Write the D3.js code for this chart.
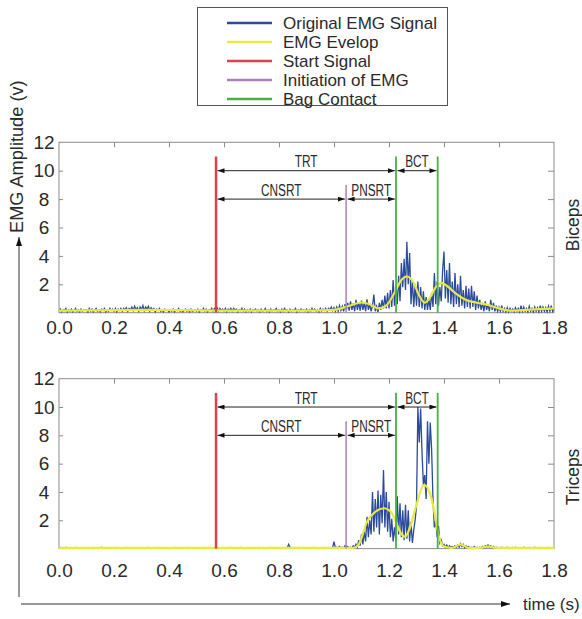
<!DOCTYPE html>
<html>
<head>
<meta charset="utf-8">
<script src="https://cdn.jsdelivr.net/npm/d3@7"></script>
<style>
  html, body { margin: 0; padding: 0; background: #fff; }
  svg { display: block; font-family: "Liberation Sans", Arial, sans-serif; }
</style>
</head>
<body>
<svg id="chart" width="582" height="619"></svg>
<script>
// ---------------- DATA ----------------
const timeTicks = [0.0, 0.2, 0.4, 0.6, 0.8, 1.0, 1.2, 1.4, 1.6, 1.8];
const ampTicks = [2, 4, 6, 8, 10];
const ampTickLabels = ["2", "4", "6", "8", "10", "12"];
const ampLabelValues = [2, 4, 6, 8, 10, 12];

const legendLabels = ["Original EMG Signal", "EMG Evelop", "Start Signal", "Initiation of EMG", "Bag Contact"];
const panelNames = ["Biceps", "Triceps"];

const sampleStep = 0.005; // seconds between EMG samples, starting at 0.0
const bicepsEMG = [
  0.1,0.25,0.05,0.2,0.15,0.3,0.05,0.2,0.1,0.25,0.05,0.15,0.3,0.1,0.2,0.05,0.25,0.1,0.2,0.15,
  0.2,0.05,0.3,0.1,0.25,0.05,0.2,0.3,0.1,0.2,0.05,0.25,0.15,0.3,0.05,0.2,0.1,0.3,0.15,0.25,
  0.1,0.3,0.05,0.25,0.15,0.3,0.1,0.3,0.2,0.35,0.1,0.3,0.2,0.4,0.15,0.45,0.2,0.35,0.1,0.4,
  0.2,0.5,0.15,0.4,0.25,0.45,0.1,0.35,0.2,0.3,0.05,0.25,0.15,0.3,0.1,0.2,0.05,0.25,0.15,0.2,
  0.05,0.2,0.1,0.25,0.05,0.2,0.15,0.3,0.1,0.2,0.05,0.15,0.25,0.1,0.2,0.05,0.25,0.1,0.15,0.2,
  0.1,0.25,0.05,0.2,0.15,0.3,0.1,0.25,0.05,0.2,0.15,0.3,0.1,0.3,0.2,0.35,0.1,0.3,0.15,0.25,
  0.1,0.3,0.05,0.25,0.15,0.3,0.1,0.3,0.2,0.25,0.05,0.2,0.15,0.3,0.1,0.25,0.05,0.2,0.1,0.25,
  0.05,0.2,0.15,0.25,0.1,0.2,0.05,0.25,0.1,0.15,0.3,0.1,0.2,0.05,0.25,0.1,0.2,0.15,0.3,0.1,
  0.2,0.05,0.25,0.1,0.3,0.15,0.2,0.05,0.25,0.1,0.2,0.15,0.3,0.05,0.2,0.1,0.25,0.15,0.2,0.1,
  0.25,0.05,0.2,0.1,0.3,0.15,0.25,0.1,0.2,0.05,0.3,0.1,0.25,0.15,0.3,0.1,0.3,0.2,0.4,0.15,
  0.35,0.1,0.4,0.1,0.5,0.15,0.45,0.1,0.6,0.2,0.7,0.15,0.8,0.2,0.65,0.1,0.9,0.2,0.75,0.15,
  0.85,0.2,0.7,0.1,0.95,0.2,0.6,0.1,0.5,1.27,0.1,0.45,0.05,0.7,0.2,0.9,0.3,1.2,0.3,1.4,
  0.3,1.6,0.4,2.3,0.5,1.8,0.6,2.6,0.8,3.5,1.8,3.8,1.6,5.0,2.0,4.2,0.6,2.3,0.4,2.0,
  0.5,2.2,0.4,1.8,0.3,1.5,0.2,1.1,0.2,1.0,0.2,1.4,0.4,2.8,0.6,2.2,0.5,1.8,0.8,3.0,
  4.3,1.0,3.0,0.7,3.5,0.6,2.2,0.4,2.8,0.6,2.0,0.4,2.6,0.5,1.6,0.3,1.9,0.4,1.7,0.3,
  1.9,0.4,1.5,0.2,1.2,0.3,0.9,0.2,0.7,0.1,0.8,0.2,0.6,0.1,0.9,0.2,0.7,0.1,0.5,0.1,
  0.4,0.1,0.5,0.1,0.3,0.05,0.35,0.05,0.3,0.1,0.25,0.05,0.35,0.1,0.3,0.05,0.5,0.1,0.4,0.1,
  0.3,0.05,0.45,0.1,0.3,0.05,0.4,0.1,0.35,0.05,0.5,0.1,0.4,0.1,0.35,0.05,0.45,0.1,0.5,0.1,
  0.3
];
const tricepsEMG = [
  0.05,0.08,0.03,0.06,0.04,0.09,0.03,0.05,0.07,0.04,0.06,0.03,0.08,0.05,0.04,0.07,0.03,0.06,0.05,0.08,
  0.04,0.07,0.03,0.06,0.05,0.08,0.04,0.06,0.03,0.07,0.05,0.09,0.04,0.06,0.03,0.05,0.07,0.04,0.06,0.05,
  0.06,0.04,0.08,0.03,0.05,0.07,0.04,0.06,0.03,0.08,0.05,0.04,0.07,0.03,0.06,0.05,0.08,0.04,0.06,0.03,
  0.05,0.07,0.04,0.06,0.03,0.08,0.05,0.04,0.07,0.03,0.06,0.05,0.08,0.04,0.06,0.03,0.05,0.07,0.04,0.06,
  0.04,0.06,0.03,0.07,0.05,0.08,0.04,0.06,0.03,0.05,0.07,0.04,0.06,0.03,0.08,0.05,0.04,0.07,0.03,0.06,
  0.06,0.04,0.07,0.03,0.05,0.08,0.04,0.06,0.03,0.07,0.05,0.04,0.06,0.03,0.08,0.05,0.04,0.07,0.03,0.05,
  0.05,0.07,0.04,0.06,0.03,0.08,0.05,0.04,0.07,0.03,0.06,0.05,0.08,0.04,0.06,0.03,0.05,0.07,0.04,0.06,
  0.04,0.06,0.03,0.07,0.05,0.08,0.04,0.06,0.03,0.05,0.07,0.04,0.06,0.03,0.08,0.05,0.04,0.07,0.03,0.06,
  0.06,0.04,0.07,0.03,0.05,0.08,0.04,0.3,0.1,0.07,0.05,0.04,0.06,0.03,0.08,0.05,0.04,0.07,0.03,0.05,
  0.05,0.07,0.04,0.06,0.03,0.08,0.05,0.04,0.07,0.03,0.06,0.05,0.08,0.04,0.06,0.03,0.05,0.07,0.04,0.06,
  0.5,0.05,0.1,0.03,0.15,0.05,0.1,0.03,0.2,0.05,0.15,0.05,0.1,0.03,0.2,0.1,0.3,0.1,0.6,0.2,
  1.0,0.3,1.2,0.5,2.25,0.8,2.0,1.0,4.0,1.2,3.5,1.5,4.1,1.0,3.8,1.8,5.55,1.5,4.0,1.2,
  3.3,0.8,2.1,0.5,1.5,0.6,3.7,1.0,3.2,0.8,2.7,0.6,3.1,0.7,2.7,0.5,1.9,0.4,1.3,2.0,
  3.0,10.0,7.5,9.9,6.85,4.5,5.2,3.5,9.0,6.0,8.9,7.0,3.4,1.5,2.0,0.8,1.6,0.4,0.6,0.2,
  0.3,0.1,0.25,0.05,0.2,0.1,0.15,0.05,0.2,0.1,0.25,0.1,0.35,0.15,0.3,0.05,0.2,0.1,0.15,0.05,
  0.1,0.05,0.15,0.03,0.1,0.05,0.1,0.03,0.15,0.05,0.2,0.1,0.25,0.1,0.2,0.05,0.15,0.03,0.1,0.05,
  0.08,0.03,0.1,0.05,0.07,0.04,0.09,0.03,0.06,0.05,0.08,0.04,0.1,0.03,0.06,0.05,0.07,0.04,0.09,0.05,
  0.06,0.04,0.08,0.03,0.07,0.05,0.09,0.04,0.06,0.03,0.08,0.05,0.07,0.04,0.06,0.03,0.08,0.05,0.06,0.04,
  0.05
];

const bicepsEnvT = [0.0, 0.3, 0.6, 0.9, 1.0, 1.05, 1.1, 1.13, 1.16, 1.19, 1.22, 1.245, 1.265, 1.29, 1.31, 1.33, 1.35, 1.37, 1.39, 1.41, 1.44, 1.48, 1.52, 1.56, 1.6, 1.64, 1.7, 1.75, 1.8];
const bicepsEnvV = [0.15, 0.2, 0.15, 0.15, 0.2, 0.45, 0.72, 0.6, 0.3, 0.5, 1.4, 2.3, 2.55, 2.1, 1.2, 0.7, 1.1, 1.8, 2.1, 1.9, 1.4, 0.9, 0.7, 0.55, 0.3, 0.15, 0.2, 0.25, 0.3];
const tricepsEnvT = [0.0, 0.5, 1.0, 1.07, 1.09, 1.12, 1.15, 1.183, 1.21, 1.225, 1.24, 1.258, 1.275, 1.3, 1.327, 1.345, 1.36, 1.38, 1.4, 1.43, 1.46, 1.49, 1.53, 1.56, 1.59, 1.8];
const tricepsEnvV = [0.05, 0.05, 0.05, 0.05, 0.3, 1.9, 2.6, 2.85, 2.5, 1.9, 1.2, 0.85, 1.4, 3.1, 4.5, 4.1, 3.1, 0.95, 0.15, 0.05, 0.3, 0.05, 0.05, 0.15, 0.05, 0.05];

// event times (s) and the heights (V) the event lines are drawn to
const startSignalT = 0.571, startSignalH = 11;
const initiationT = 1.044, initiationH = 9;
const bagContactT = [1.2255, 1.377], bagContactH = 11;

// interval annotations: label, from event, to event, level (V)
const intervalLabels = ["TRT", "BCT", "CNSRT", "PNSRT"];
const intervalFrom = [startSignalT, bagContactT[0], startSignalT, initiationT];
const intervalTo = [bagContactT[0], bagContactT[1], initiationT, bagContactT[0]];
const intervalLevel = [10, 10, 8, 8];

// ---------------- STYLE ----------------
const C = {
  blue: "#2c4b9c", yellow: "#e9ea3c", red: "#d9434a", purple: "#ad80ba", green: "#47b043",
  frame: "#8c8c8c", text: "#2a2a2a"
};
const legendColors = [C.blue, C.yellow, C.red, C.purple, C.green];

const svg = d3.select("#chart");
const defs = svg.append("defs");
defs.append("marker").attr("id", "ah").attr("viewBox", "0 0 7 5")
  .attr("refX", 7).attr("refY", 2.5).attr("markerWidth", 7).attr("markerHeight", 5)
  .attr("markerUnits", "userSpaceOnUse").attr("orient", "auto-start-reverse")
  .append("path").attr("d", "M0,0 L7,2.5 L0,5 Z").attr("fill", "#111");
defs.append("marker").attr("id", "bigah").attr("viewBox", "0 0 9 6")
  .attr("refX", 9).attr("refY", 3).attr("markerWidth", 9).attr("markerHeight", 6)
  .attr("markerUnits", "userSpaceOnUse").attr("orient", "auto")
  .append("path").attr("d", "M0,0 L9,3 L0,6 Z").attr("fill", "#111");

const x = d3.scaleLinear().domain([0, 1.8]).range([59, 554]);

const panels = [
  { name: panelNames[0], top: 142.3, bottom: 312.7, emg: bicepsEMG, envT: bicepsEnvT, envV: bicepsEnvV, labelOff: 22, sideY: 225 },
  { name: panelNames[1], top: 378.7, bottom: 548.6, emg: tricepsEMG, envT: tricepsEnvT, envV: tricepsEnvV, labelOff: 29, sideY: 477 }
];

panels.forEach((p, pi) => {
  const y = d3.scaleLinear().domain([0, 12]).range([p.bottom, p.top]);
  const g = svg.append("g");
  const clipId = "clip" + pi;
  defs.append("clipPath").attr("id", clipId).append("rect")
    .attr("x", x(0)).attr("y", y(12)).attr("width", x(1.8) - x(0)).attr("height", y(0) - y(12) + 1);

  // frame
  g.append("rect").attr("x", x(0)).attr("y", y(12)).attr("width", x(1.8) - x(0)).attr("height", y(0) - y(12))
    .attr("fill", "none").attr("stroke", C.frame).attr("stroke-width", 1);

  // x tick labels (bottom)
  const xb = g.append("g").attr("transform", `translate(0,${y(0)})`)
    .call(d3.axisBottom(x).tickValues(timeTicks).tickFormat(d3.format(".1f")).tickSize(0).tickPadding(p.labelOff - 14));
  xb.select(".domain").remove();
  xb.selectAll("text").attr("font-size", 19).attr("fill", C.text).attr("font-family", "Liberation Sans, Arial, sans-serif");

  // top inside ticks
  const xt = g.append("g").attr("transform", `translate(0,${y(12)})`)
    .call(d3.axisTop(x).tickValues(timeTicks.slice(1, -1)).tickFormat("").tickSize(-5));
  xt.select(".domain").remove();
  xt.selectAll("line").attr("stroke", C.frame);

  // left inside ticks
  const yl = g.append("g").attr("transform", `translate(${x(0)},0)`)
    .call(d3.axisLeft(y).tickValues(ampTicks).tickFormat("").tickSize(-4));
  yl.select(".domain").remove();
  yl.selectAll("line").attr("stroke", C.frame);

  // left labels (centered)
  g.append("g").selectAll("text").data(ampLabelValues).join("text")
    .attr("x", x(0) - 15).attr("y", d => y(d)).attr("dy", "0.35em")
    .attr("text-anchor", "middle").attr("font-size", 19).attr("fill", C.text)
    .text((d, i) => ampTickLabels[i]);

  // right inside ticks
  const yr = g.append("g").attr("transform", `translate(${x(1.8)},0)`)
    .call(d3.axisRight(y).tickValues(ampTicks).tickFormat("").tickSize(-6));
  yr.select(".domain").remove();
  yr.selectAll("line").attr("stroke", C.frame);

  // EMG raw signal
  const plot = g.append("g").attr("clip-path", `url(#${clipId})`);
  plot.append("path").datum(p.emg)
    .attr("d", d3.line().x((d, i) => x(i * sampleStep)).y(d => y(d)))
    .attr("fill", "none").attr("stroke", C.blue).attr("stroke-width", 1.3).attr("stroke-linejoin", "miter");

  // envelope
  const env = p.envT.map((t, i) => [t, p.envV[i]]);
  plot.append("path").datum(env)
    .attr("d", d3.line().x(d => x(d[0])).y(d => y(d[1])).curve(d3.curveMonotoneX))
    .attr("fill", "none").attr("stroke", C.yellow).attr("stroke-width", 2.2);

  // event lines
  g.append("line").attr("x1", x(startSignalT)).attr("x2", x(startSignalT))
    .attr("y1", y(0)).attr("y2", y(startSignalH)).attr("stroke", C.red).attr("stroke-width", 2.5);
  g.append("line").attr("x1", x(initiationT)).attr("x2", x(initiationT))
    .attr("y1", y(0)).attr("y2", y(initiationH)).attr("stroke", C.purple).attr("stroke-width", 1.5);
  g.selectAll(".bag").data(bagContactT).join("line")
    .attr("x1", d => x(d)).attr("x2", d => x(d))
    .attr("y1", y(0)).attr("y2", y(bagContactH)).attr("stroke", C.green).attr("stroke-width", 1.8);

  // interval arrows
  intervalLabels.forEach((lab, i) => {
    const x1 = x(intervalFrom[i]) + 1.5, x2 = x(intervalTo[i]) - 1.2;
    const yy = y(intervalLevel[i]);
    g.append("line").attr("x1", x1).attr("x2", x2).attr("y1", yy).attr("y2", yy)
      .attr("stroke", "#222").attr("stroke-width", 1)
      .attr("marker-start", "url(#ah)").attr("marker-end", "url(#ah)");
    const t = g.append("text").attr("x", (x1 + x2) / 2).attr("y", yy - 3.5)
      .attr("text-anchor", "middle").attr("font-size", 16).attr("fill", C.text).text(lab);
    const len = t.node().getComputedTextLength();
    t.attr("textLength", len * 0.74).attr("lengthAdjust", "spacingAndGlyphs");
  });

  // side label
  g.append("text").attr("transform", `translate(579,${p.sideY}) rotate(-90)`)
    .attr("text-anchor", "middle").attr("font-size", 17.5).attr("fill", C.text).text(p.name);
});

// y-axis title + arrow
svg.append("text").attr("transform", "translate(23,233) rotate(-90)")
  .attr("text-anchor", "start").attr("font-size", 18.2).attr("fill", C.text).text("EMG Amplitude (v)");
svg.append("line").attr("x1", 19).attr("x2", 19).attr("y1", 597).attr("y2", 237)
  .attr("stroke", "#333").attr("stroke-width", 1).attr("marker-end", "url(#bigah)");
svg.append("line").attr("x1", 21).attr("x2", 510).attr("y1", 604).attr("y2", 604)
  .attr("stroke", "#333").attr("stroke-width", 1).attr("marker-end", "url(#bigah)");
svg.append("text").attr("x", 523).attr("y", 610).attr("font-size", 17).attr("fill", C.text).text("time (s)");

// legend
const lg = svg.append("g");
lg.append("rect").attr("x", 197.5).attr("y", 7.5).attr("width", 250).attr("height", 98)
  .attr("fill", "#fff").attr("stroke", "#555").attr("stroke-width", 1);
const rowY = d3.scalePoint().domain(legendLabels).range([23, 99]);
legendLabels.forEach((lab, i) => {
  lg.append("line").attr("x1", 227).attr("x2", 272).attr("y1", rowY(lab)).attr("y2", rowY(lab))
    .attr("stroke", legendColors[i]).attr("stroke-width", 2.5);
  lg.append("text").attr("x", 283).attr("y", rowY(lab)).attr("dy", "0.36em")
    .attr("font-size", 17).attr("fill", C.text).text(lab);
});
</script>
</body>
</html>
